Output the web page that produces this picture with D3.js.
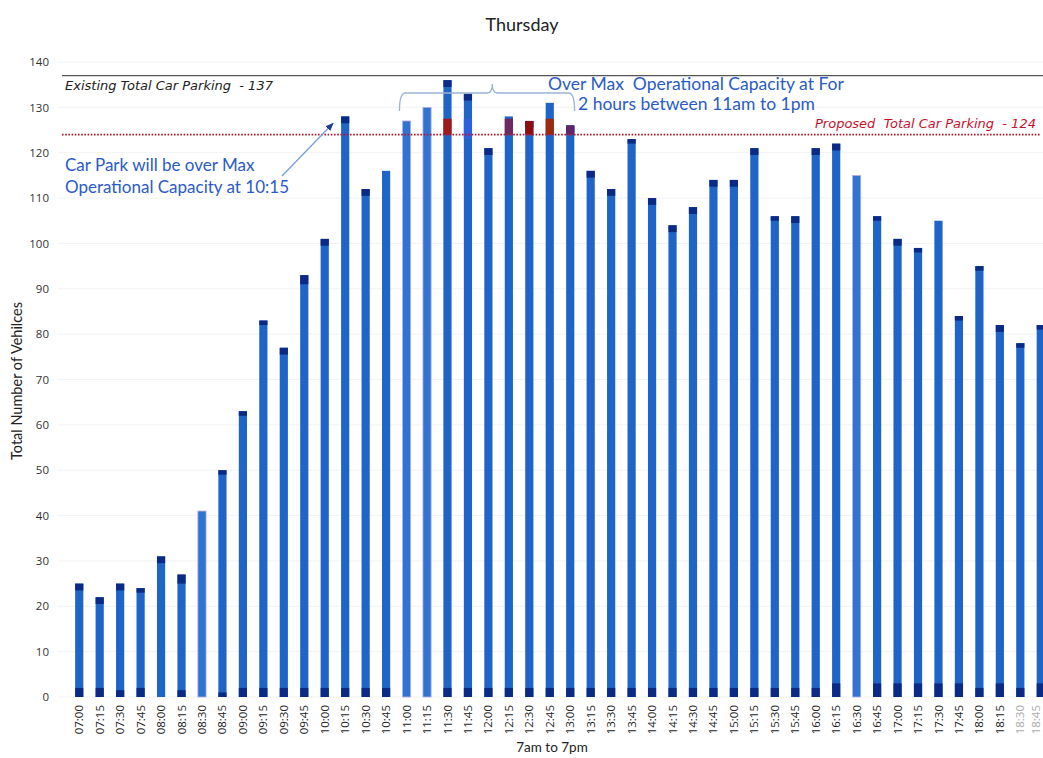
<!DOCTYPE html>
<html>
<head>
<meta charset="utf-8">
<script src="https://cdn.jsdelivr.net/npm/d3@7"></script>
<style>
  html, body { margin: 0; padding: 0; background: #fff; }
  svg { display: block; }
  text { white-space: pre; }
</style>
</head>
<body>
<svg id="chart" width="1043" height="758"></svg>
<script>
// ---------------- DATA ----------------
const times = ["07:00","07:15","07:30","07:45","08:00","08:15","08:30","08:45","09:00","09:15","09:30","09:45",
  "10:00","10:15","10:30","10:45","11:00","11:15","11:30","11:45","12:00","12:15","12:30","12:45",
  "13:00","13:15","13:30","13:45","14:00","14:15","14:30","14:45","15:00","15:15","15:30","15:45",
  "16:00","16:15","16:30","16:45","17:00","17:15","17:30","17:45","18:00","18:15","18:30","18:45"];
const totalVehicles = [25,22,25,24,31,27,41,50,63,83,77,93,
  101,128,112,116,127,130,136,133,121,128,127,131,
  126,116,112,123,110,104,108,114,114,121,106,106,
  121,122,115,106,101,99,105,84,95,82,78,82];
// dark segment at the bottom of each bar (vehicles)
const baseSegment = [2,2,1.5,2,0,1.5,0,1,2,2,2,2,
  2,2,2,2,0,0,2,2,2,2,2,2,
  2,2,2,2,2,2,2,2,2,2,2,2,
  2,3,0,3,3,3,3,3,2,3,2,3];
// dark cap at the top of each bar (vehicles)
const topCap = [1.5,1.5,1.5,1,1.5,2,0,1,1,1,1.5,2,
  1.5,1.5,1.5,0,0,0,1.5,1.5,1.5,0,1.5,0,
  1.5,1.5,1.5,1,1.5,1.5,1.5,1.5,1.5,1.5,1,1.5,
  1.5,1.5,0,1,1.5,1,0,1,1,1.5,1,1];
// highlighted band just above the proposed capacity
const highlightTimes = ["11:30","12:15","12:30","12:45","13:00"];
const highlightColors = ["#a01a1a","#6e2a5e","#8e0d0d","#9a2a12","#5e2568"];
const highlightFrom = 124, highlightTo = 127.5;
const lighterTimes = ["08:30","11:00","11:15","16:30"];
const yTicks = [0,10,20,30,40,50,60,70,80,90,100,110,120,130,140];
const existingCapacity = 137;
const proposedCapacity = 124;

// ---------------- CHART ----------------
const svg = d3.select("#chart");
const W = 1043, H = 758;

const x = d3.scaleBand().domain(times).range([69, 1051]).paddingInner(0.6).paddingOuter(0.3);
const y = d3.scaleLinear().domain([0, 140]).range([697, 62]);

const blue = "#1f65c8", navy = "#0b2a86", annBlue = "#2a5bc8";

// faint gridlines
svg.append("g").selectAll("line").data(yTicks).join("line")
  .attr("x1", 58).attr("x2", W).attr("y1", d => y(d)).attr("y2", d => y(d))
  .attr("stroke", "#f3f3f3").attr("stroke-width", 1);

// title
svg.append("text").attr("x", 522).attr("y", 31).attr("text-anchor", "middle")
  .attr("font-family", "Lato, 'Open Sans', sans-serif").attr("font-size", 18).attr("fill", "#222")
  .text("Thursday");

// y axis
const yAxis = svg.append("g").attr("transform", "translate(51,0)")
  .call(d3.axisLeft(y).tickValues(yTicks).tickSize(0).tickPadding(2));
yAxis.select(".domain").remove();
yAxis.selectAll("text").attr("font-family", "'Open Sans', sans-serif").attr("font-size", 11.5).attr("fill", "#333");

svg.append("text").attr("transform", "translate(22,381) rotate(-90)").attr("text-anchor", "middle")
  .attr("font-family", "Lato, 'Open Sans', sans-serif").attr("font-size", 14.5).attr("fill", "#222")
  .text("Total Number of Vehilces");

// x axis
const xAxis = svg.append("g")
  .call(d3.axisBottom(x).tickSize(0).tickPadding(0));
xAxis.select(".domain").remove();
xAxis.selectAll("text")
  .attr("font-family", "'Open Sans', sans-serif").attr("font-size", 11.5).attr("fill", "#222")
  .attr("text-anchor", "end").attr("dy", "0.35em")
  .attr("transform", "rotate(-90)").attr("x", 0).attr("y", 0);
xAxis.selectAll(".tick").attr("transform", d => `translate(${Math.min(x(d) + x.bandwidth() / 2, 1036)},705)`);
xAxis.selectAll(".tick text").filter(d => d === "18:30" || d === "18:45").attr("fill", "#aaa");

svg.append("text").attr("x", 552).attr("y", 752).attr("text-anchor", "middle")
  .attr("font-family", "Lato, 'Open Sans', sans-serif").attr("font-size", 13.5).attr("fill", "#222")
  .text("7am to 7pm");

// bars
const bars = svg.append("g");
times.forEach((t, i) => {
  const total = totalVehicles[i];
  const lighter = lighterTimes.includes(t);
  const bx = x(t), bw = x.bandwidth();
  bars.append("rect").attr("x", bx).attr("width", bw)
    .attr("y", y(total)).attr("height", y(0) - y(total))
    .attr("fill", lighter ? "#2f74d2" : blue)
    .attr("stroke", lighter ? "#b9b0ea" : "none").attr("stroke-width", lighter ? 0.8 : 0);
  if (baseSegment[i] > 0) {
    bars.append("rect").attr("x", bx).attr("width", bw)
      .attr("y", y(baseSegment[i])).attr("height", y(0) - y(baseSegment[i])).attr("fill", navy);
  }
  if (topCap[i] > 0) {
    bars.append("rect").attr("x", bx).attr("width", bw)
      .attr("y", y(total)).attr("height", y(total - topCap[i]) - y(total)).attr("fill", navy);
  }
  const h = highlightTimes.indexOf(t);
  if (h >= 0) {
    const top = Math.min(highlightTo, total);
    bars.append("rect").attr("x", bx).attr("width", bw)
      .attr("y", y(top)).attr("height", y(highlightFrom) - y(top)).attr("fill", highlightColors[h]);
  }
  if (t === "11:45") {
    bars.append("rect").attr("x", bx).attr("width", bw)
      .attr("y", y(highlightTo)).attr("height", y(highlightFrom - 1) - y(highlightTo)).attr("fill", "#2f5fe0");
  }
});

// existing capacity line
svg.append("line").attr("x1", 62).attr("x2", 1043).attr("y1", y(existingCapacity)).attr("y2", y(existingCapacity))
  .attr("stroke", "#555").attr("stroke-width", 1.3);
svg.append("text").attr("x", 65).attr("y", y(existingCapacity) + 14)
  .attr("font-family", "'DejaVu Sans', sans-serif").attr("font-style", "italic").attr("font-size", 13).attr("fill", "#222")
  .text("Existing Total Car Parking  - 137");

// proposed capacity line (dotted)
svg.append("line").attr("x1", 62).attr("x2", 1040).attr("y1", y(proposedCapacity)).attr("y2", y(proposedCapacity))
  .attr("stroke", "#b8142a").attr("stroke-width", 1.8).attr("stroke-dasharray", "1.6,1.6");
svg.append("text").attr("x", 815).attr("y", y(proposedCapacity) - 7)
  .attr("font-family", "'DejaVu Sans', sans-serif").attr("font-style", "italic").attr("font-size", 13).attr("fill", "#c8102e")
  .text("Proposed  Total Car Parking  - 124");

// annotation 1
const ann = svg.append("g").attr("font-family", "Lato, 'Open Sans', sans-serif").attr("font-size", 17).attr("fill", annBlue);
ann.append("text").attr("x", 65).attr("y", 171).text("Car Park will be over Max");
ann.append("text").attr("x", 65).attr("y", 193).text("Operational Capacity at 10:15");
svg.append("defs").append("marker").attr("id", "ah").attr("viewBox", "0 0 10 10")
  .attr("refX", 9).attr("refY", 5).attr("markerWidth", 7).attr("markerHeight", 7).attr("orient", "auto")
  .append("path").attr("d", "M0,1 L10,5 L0,9 Z").attr("fill", "#1b3f9a");
const ax2 = x("10:15") - 8, ay2 = y(126.5);
svg.append("line").attr("x1", 282).attr("y1", 176).attr("x2", ax2).attr("y2", ay2)
  .attr("stroke", "#6f9ee0").attr("stroke-width", 1.2).attr("marker-end", "url(#ah)");

// annotation 2 with bracket
const bl = x("11:00") - 3, br = x("13:15") - 12, bp = x("12:00") + 8, by = 93;
svg.append("path")
  .attr("d", `M${bl},111 Q${bl},${by} ${bl + 6},${by} L${bp - 5},${by} Q${bp},${by} ${bp},${by - 9} Q${bp},${by} ${bp + 5},${by} L${br - 6},${by} Q${br},${by} ${br},111`)
  .attr("fill", "none").attr("stroke", "#9ab3d6").attr("stroke-width", 1.3);
ann.append("text").attr("x", 548).attr("y", 90).attr("font-size", 17.5).text("Over Max  Operational Capacity at For");
ann.append("text").attr("x", 578).attr("y", 110).attr("font-size", 17.5).text("2 hours between 11am to 1pm");
</script>
</body>
</html>
